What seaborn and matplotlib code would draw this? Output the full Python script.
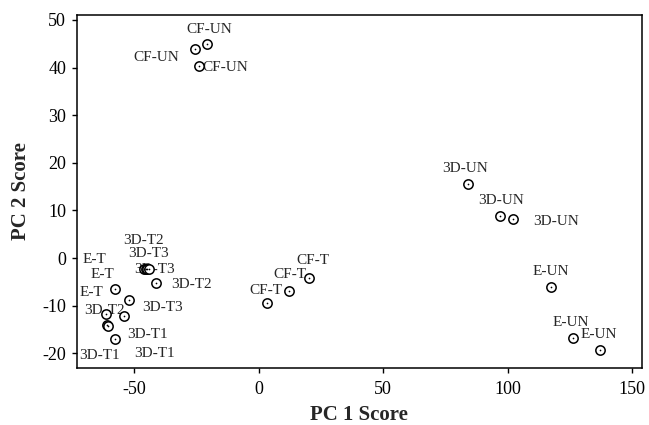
import numpy as np
import pandas as pd
import matplotlib
matplotlib.use('Agg')
import matplotlib.pyplot as plt
import seaborn as sns

# Du lieu doc tu hinh (PC1, PC2)
nhan = ['CF-UN', 'CF-UN', 'CF-UN',
        'CF-T', 'CF-T', 'CF-T',
        '3D-UN', '3D-UN', '3D-UN',
        'E-UN', 'E-UN', 'E-UN',
        '3D-T2', '3D-T3', '3D-T3', 'E-T',
        '3D-T2', 'E-T', '3D-T3', 'E-T', '3D-T2',
        '3D-T1', '3D-T1', '3D-T1']
pc1 = [-20.8, -25.6, -24.1,
       20.2, 12.0, 3.3,
       84.1, 96.8, 102.1,
       117.5, 126.2, 137.0,
       -46.0, -45.4, -44.8, -44.2,
       -41.4, -57.8, -52.2, -61.2, -54.2,
       -60.8, -60.6, -57.6]
pc2 = [44.9, 43.9, 40.3,
       -4.1, -6.9, -9.5,
       15.5, 8.8, 8.2,
       -6.0, -16.7, -19.3,
       -2.4, -2.4, -2.4, -2.4,
       -5.3, -6.4, -8.8, -11.8, -12.1,
       -14.1, -14.3, -17.0]

# vi tri nhan so voi diem (pixel)
lech = [(2, 15), (-39, -9), (27, -1),
        (4, 17), (1, 16), (-1, 13),
        (-3, 16), (2, 16), (43, -3),
        (0, 15), (-2, 15), (-1, 15),
        (-1, 29), (3, 16), (7, 0), (-54, 10),
        (36, -1), (-12, 14), (34, -8), (-15, 22), (-19, 5),
        (-8, -30), (40, -8), (39, -15)]

df = pd.DataFrame({'PC1': pc1, 'PC2': pc2, 'Nhan': nhan})

sns.set_style('ticks')
plt.rcParams['font.family'] = ['Liberation Serif', 'DejaVu Serif']
plt.rcParams['axes.unicode_minus'] = False

fig = plt.figure(figsize=(6.49, 4.25), dpi=100)
ax = fig.add_axes([0.118, 0.134, 0.871, 0.831])

for i in range(len(df)):
    ax.annotate(df['Nhan'][i], (df['PC1'][i], df['PC2'][i]),
                xytext=lech[i], textcoords='offset pixels',
                ha='center', va='center', fontsize=11, zorder=2)

sns.scatterplot(data=df, x='PC1', y='PC2', ax=ax, marker='o', s=45,
                facecolor='white', edgecolor='black', linewidth=1.1, zorder=3)
sns.scatterplot(data=df, x='PC1', y='PC2', ax=ax, marker='o', s=1.5,
                color='black', linewidth=0, zorder=4)

ax.set_xlim(-73.2, 154)
ax.set_ylim(-23.1, 51.05)
ax.set_xticks([-50, 0, 50, 100, 150])
ax.set_yticks([-20, -10, 0, 10, 20, 30, 40, 50])
ax.set_xlabel('PC 1 Score', fontsize=15, fontweight='bold', labelpad=5)
ax.set_ylabel('PC 2 Score', fontsize=15, fontweight='bold', labelpad=8)
ax.tick_params(labelsize=13, length=3.5, width=1, color='black', labelcolor='black')
ax.tick_params(axis='x', pad=6)
ax.tick_params(axis='y', pad=4)
for s in ax.spines.values():
    s.set_linewidth(1.1)
    s.set_color('black')

fig.savefig('out.png', dpi=100)
